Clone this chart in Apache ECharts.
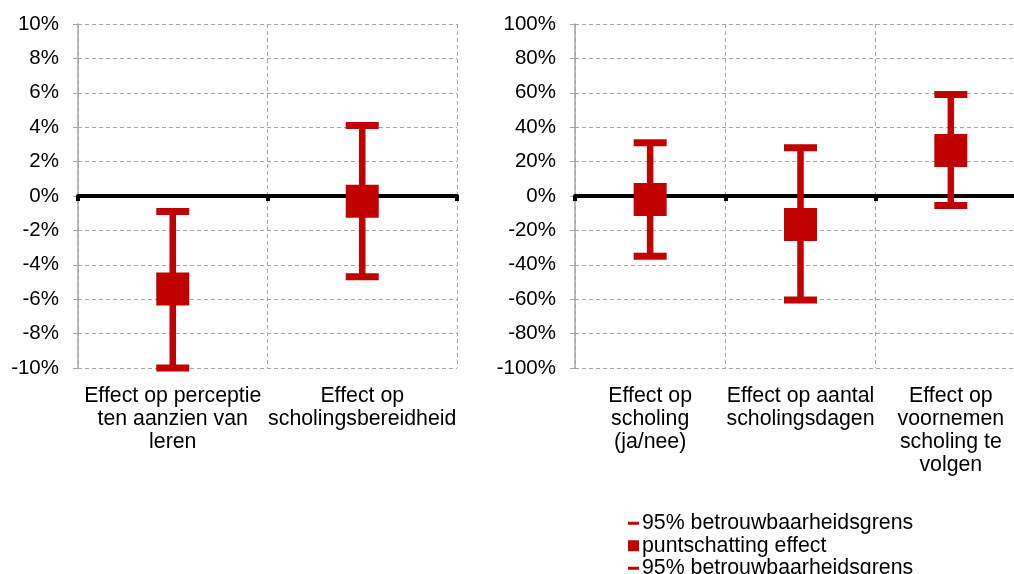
<!DOCTYPE html>
<html>
<head>
<meta charset="utf-8">
<script src="https://cdn.jsdelivr.net/npm/echarts@6/dist/echarts.min.js"></script>
<style>
html,body{margin:0;padding:0;background:#fff;}
#chart{width:1014px;height:574px;}
</style>
</head>
<body>
<div id="chart"></div>
<script>
// ---- data ----
var categoriesLeft = ['Effect op perceptie\nten aanzien van\nleren', 'Effect op\nscholingsbereidheid'];
var upperLeft = [-0.9, 4.1];
var pointLeft = [-5.4, -0.3];
var lowerLeft = [-10.0, -4.7];

var categoriesRight = ['Effect op\nscholing\n(ja/nee)', 'Effect op aantal\nscholingsdagen', 'Effect op\nvoornemen\nscholing te\nvolgen'];
var upperRight = [31, 28, 59];
var pointRight = [-2, -16.5, 26.5];
var lowerRight = [-35, -60.5, -5.5];

var upperName = '95% betrouwbaarheidsgrens';
var pointName = 'puntschatting effect';
var lowerName = '95% betrouwbaarheidsgrens ';

// ---- style ----
var RED = '#C00000';
var GRID = '#a6a6a6';
var FONT = 'Liberation Sans, Arial, sans-serif';
var FS = 20.5;
var FS_TXT = 21.3;

function whiskerData(lo, hi) {
  return lo.map(function (v, i) { return [i, v, hi[i]]; });
}
function idxData(arr) {
  return arr.map(function (v, i) { return [i, v]; });
}

function buildAxes(gridIndex, cats, min, max, interval) {
  var xBottom = {
    type: 'category', gridIndex: gridIndex, data: cats, position: 'bottom',
    boundaryGap: true,
    axisLine: { show: false, onZero: false },
    axisTick: { show: false },
    axisLabel: { interval: 0, margin: 17, color: '#000', fontFamily: FONT, fontSize: FS_TXT, lineHeight: 22.8, align: 'center', hideOverlap: false },
    splitLine: { show: true, interval: 0, lineStyle: { color: GRID, type: [4, 3], width: 1 } }
  };
  var xZero = {
    type: 'category', gridIndex: gridIndex, data: cats, position: 'bottom',
    boundaryGap: true,
    axisLine: { show: true, onZero: true, lineStyle: { color: '#000', width: 4 } },
    axisTick: { show: true, interval: 0, length: 5, lineStyle: { color: '#000', width: 4 } },
    axisLabel: { show: false },
    splitLine: { show: false }
  };
  var y = {
    type: 'value', gridIndex: gridIndex, min: min, max: max, interval: interval,
    axisLine: { show: true, lineStyle: { color: GRID, width: 1.5 } },
    axisTick: { show: true, length: 5, lineStyle: { color: GRID } },
    axisLabel: { formatter: '{value}%', margin: 19, color: '#000', fontFamily: FONT, fontSize: FS },
    splitLine: { show: true, lineStyle: { color: GRID, type: [4, 3], width: 1 } }
  };
  return { x: [xBottom, xZero], y: y };
}

var axL = buildAxes(0, categoriesLeft, -10, 10, 2);
var axR = buildAxes(1, categoriesRight, -100, 100, 20);

function seriesFor(xi, yi, up, pt, lo) {
  return [
    {
      type: 'custom', name: 'whisker', xAxisIndex: xi, yAxisIndex: yi, z: 3,
      data: whiskerData(lo, up),
      renderItem: function (params, api) {
        var a = api.coord([api.value(0), api.value(1)]);
        var b = api.coord([api.value(0), api.value(2)]);
        return { type: 'line', shape: { x1: a[0], y1: a[1], x2: b[0], y2: b[1] }, style: { stroke: RED, lineWidth: 6.5 } };
      },
      silent: true
    },
    { type: 'scatter', name: upperName, xAxisIndex: xi, yAxisIndex: yi, z: 4, symbol: 'rect', symbolSize: [33, 7], itemStyle: { color: RED, opacity: 1 }, data: idxData(up), silent: true },
    { type: 'scatter', name: pointName, xAxisIndex: xi, yAxisIndex: yi, z: 5, symbol: 'rect', symbolSize: [33, 33], itemStyle: { color: RED, opacity: 1 }, data: idxData(pt), silent: true },
    { type: 'scatter', name: lowerName, xAxisIndex: xi, yAxisIndex: yi, z: 4, symbol: 'rect', symbolSize: [33, 7], itemStyle: { color: RED, opacity: 1 }, data: idxData(lo), silent: true }
  ];
}

var dashIcon = 'path://M0,0 L0,0 M0,4 L11,4 L11,7 L0,7 Z M0,11 L0,11';

var option = {
  animation: false,
  backgroundColor: '#fff',
  textStyle: { fontFamily: FONT },
  grid: [
    { left: 78, top: 24, width: 379, height: 344, containLabel: false, outerBoundsMode: 'none' },
    { left: 575, top: 24, width: 451, height: 344, containLabel: false, outerBoundsMode: 'none' }
  ],
  xAxis: axL.x.concat(axR.x),
  yAxis: [axL.y, axR.y],
  legend: {
    orient: 'vertical', left: 628, top: 512, height: 120, padding: 0, itemGap: 0,
    itemWidth: 11, itemHeight: 11,
    textStyle: { color: '#000', fontFamily: FONT, fontSize: FS_TXT, lineHeight: 22.5, padding: [0, 0, 0, -2] },
    selectedMode: false,
    data: [
      { name: upperName, icon: dashIcon },
      { name: pointName, icon: 'rect' },
      { name: lowerName, icon: dashIcon }
    ]
  },
  series: seriesFor(0, 0, upperLeft, pointLeft, lowerLeft).concat(seriesFor(2, 1, upperRight, pointRight, lowerRight))
};

var chart = echarts.init(document.getElementById('chart'), null, { renderer: 'canvas' });
chart.setOption(option);
</script>
</body>
</html>
